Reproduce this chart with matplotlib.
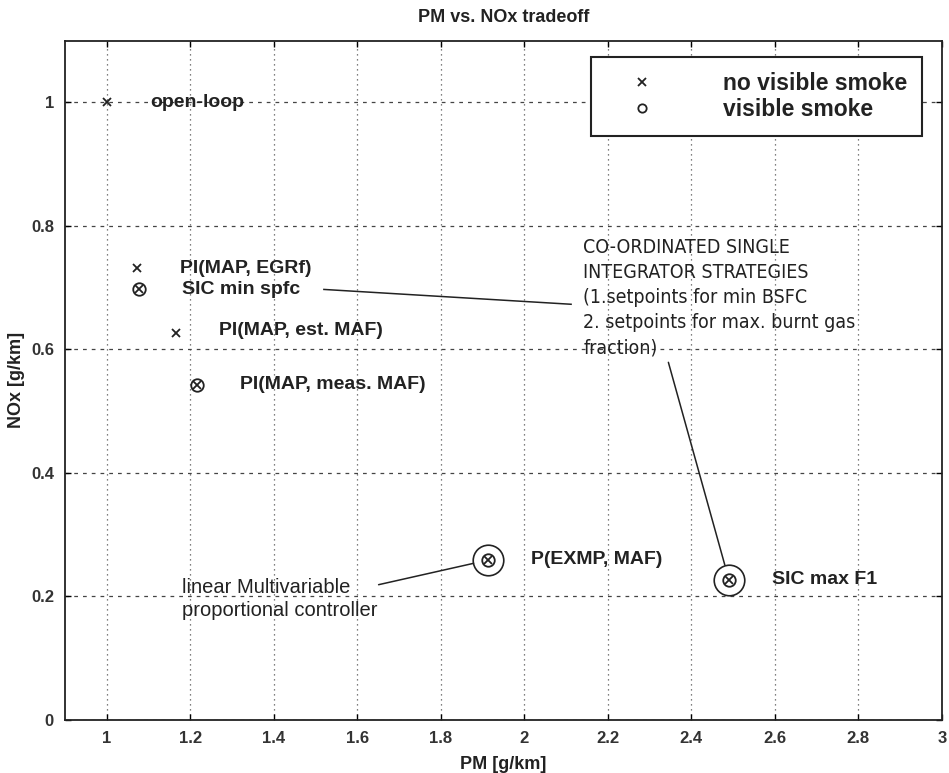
import matplotlib
matplotlib.use("Agg")
import matplotlib.pyplot as plt
from matplotlib.lines import Line2D

plt.rcParams['font.family'] = ['Liberation Sans', 'DejaVu Sans']

# controller results: particulate matter vs NOx
pm = [1.00, 1.072, 1.077, 1.167, 1.215, 1.914, 2.49]
nox = [1.00, 0.731, 0.697, 0.626, 0.543, 0.259, 0.227]
names = ['open-loop', 'PI(MAP, EGRf)', 'SIC min spfc', 'PI(MAP, est. MAF)',
         'PI(MAP, meas. MAF)', 'P(EXMP, MAF)', 'SIC max F1']
smoke = [False, False, True, False, True, True, True]
circled = ['P(EXMP, MAF)', 'SIC max F1']

x_ticks = [1, 1.2, 1.4, 1.6, 1.8, 2, 2.2, 2.4, 2.6, 2.8, 3]
x_ticklabels = ['1', '1.2', '1.4', '1.6', '1.8', '2', '2.2', '2.4', '2.6', '2.8', '3']
y_ticks = [0, 0.2, 0.4, 0.6, 0.8, 1]
y_ticklabels = ['0', '0.2', '0.4', '0.6', '0.8', '1']

block_text = ("CO-ORDINATED SINGLE\nINTEGRATOR STRATEGIES\n(1.setpoints for min BSFC\n"
              "2. setpoints for max. burnt gas\nfraction)")
linear_text = "linear Multivariable\nproportional controller"

ink = '#222222'

fig = plt.figure(figsize=(9.49, 7.73), dpi=100)
ax = fig.add_axes([0.0685, 0.0686, 0.924, 0.879])

ax.set_xlim(0.9, 3)
ax.set_ylim(0, 1.1)
ax.set_xticks(x_ticks)
ax.set_xticklabels(x_ticklabels)
ax.set_yticks(y_ticks)
ax.set_yticklabels(y_ticklabels)
ax.tick_params(direction='in', top=True, right=True, length=4, width=1,
               labelsize=12, pad=8)
for lbl in ax.get_xticklabels() + ax.get_yticklabels():
    lbl.set_fontweight('bold')
    lbl.set_color('#333333')

# matlab style grid
ax.xaxis.grid(True, linestyle=(0, (1, 3)), color='#555555', linewidth=0.9)
ax.yaxis.grid(True, linestyle=(0, (3, 4)), color='#444444', linewidth=0.9)
for sp in ax.spines.values():
    sp.set_linewidth(1.3)
    sp.set_color(ink)

ax.set_title('PM vs. NOx tradeoff', fontsize=13, fontweight='bold', pad=13, color=ink)
ax.set_xlabel('PM [g/km]', fontsize=13, fontweight='bold', labelpad=7, color=ink)
ax.set_ylabel('NOx [g/km]', fontsize=13, fontweight='bold', labelpad=4, color=ink)

for x, y, name, sm in zip(pm, nox, names, smoke):
    ax.plot(x, y, marker='x', color=ink, markersize=6, mew=1.3, linestyle='none')
    if sm:
        ax.plot(x, y, marker='o', mfc='none', mec=ink, markersize=9, mew=1.3,
                linestyle='none')
    if name in circled:
        ax.plot(x, y, marker='o', mfc='none', mec=ink, markersize=22, mew=1.2,
                linestyle='none')
    dy = 3 if name == 'PI(MAP, est. MAF)' else 0
    ax.annotate(name, (x, y), xytext=(43, dy), textcoords='offset pixels',
                va='center', ha='left', fontsize=14, fontweight='bold', color=ink)

# strategy description block with leader lines
ax.text(2.141, 0.780, block_text, va='top', ha='left', fontsize=14,
        family='DejaVu Sans', fontstretch='condensed', linespacing=1.4, color=ink)
ax.plot([1.52, 2.112], [0.697, 0.673], color=ink, linewidth=1.1)
i_max = names.index('SIC max F1')
ax.annotate('', xy=(pm[i_max], nox[i_max]), xytext=(2.345, 0.579),
            arrowprops=dict(arrowstyle='-', color=ink, lw=1.1, shrinkA=0, shrinkB=11))

ax.text(1.18, 0.230, linear_text, va='top', ha='left', fontsize=14.5,
        linespacing=1.3, color=ink)
i_p = names.index('P(EXMP, MAF)')
ax.annotate('', xy=(pm[i_p], nox[i_p]), xytext=(1.651, 0.219),
            arrowprops=dict(arrowstyle='-', color=ink, lw=1.1, shrinkA=0, shrinkB=11))

handles = [Line2D([], [], marker='x', color=ink, linestyle='none', markersize=6, mew=1.3),
           Line2D([], [], marker='o', mfc='none', mec=ink, linestyle='none',
                  markersize=6, mew=1.3)]
leg = ax.legend(handles, ['no visible smoke', 'visible smoke'], loc='upper right',
                bbox_to_anchor=(0.977, 0.975), prop={'size': 16.5, 'weight': 'bold'},
                fancybox=False, framealpha=1, edgecolor=ink, borderpad=0.65,
                handlelength=3.2, handletextpad=1.9, labelspacing=0.1, borderaxespad=0)
leg.get_frame().set_linewidth(1.5)
for t in leg.get_texts():
    t.set_color(ink)

fig.savefig('out.png', dpi=100)
